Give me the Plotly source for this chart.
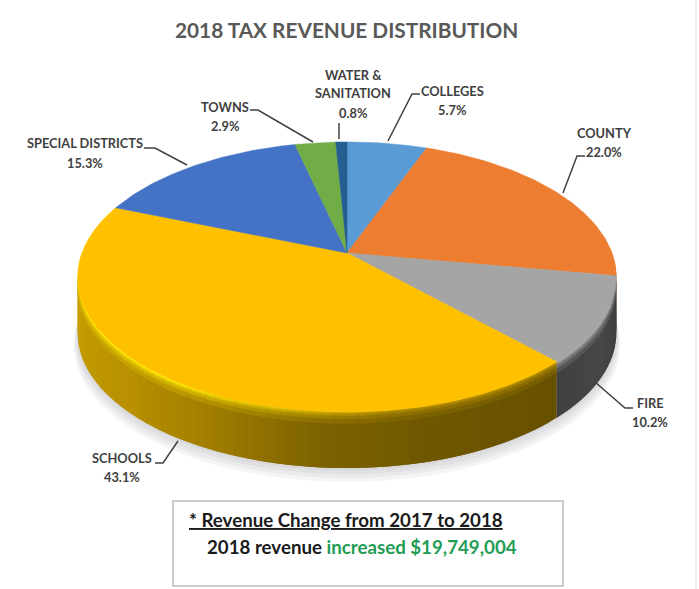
import numpy as np
import plotly.graph_objects as go

# ---- data ----
categories = ["COLLEGES", "COUNTY", "FIRE", "SCHOOLS", "SPECIAL DISTRICTS", "TOWNS", "WATER & SANITATION"]
values = [5.7, 22.0, 10.2, 43.1, 15.3, 2.9, 0.8]
title_text = "2018 TAX REVENUE DISTRIBUTION"
note_heading = "* Revenue Change from 2017 to 2018"
note_prefix = "2018 revenue "
note_amount = "increased $19,749,004"

# ---- styles ----
top_colors = ["#5b9bd5", "#ed7d31", "#a5a5a5", "#ffc000", "#4472c4", "#70ad47", "#255e91"]
# wall colour stops: clockwise angle (deg) -> colour
wall_stops = {
    "COLLEGES": [(0, "#2f5f8a"), (360, "#2f5f8a")],
    "COUNTY": [(0, "#5a3010"), (360, "#5a3010")],
    "FIRE": [(99, "#3c3c3c"), (120, "#474747"), (137, "#3f3f3f")],
    "SCHOOLS": [(136, "#665000"), (165, "#6f5700"), (185, "#7d6200"), (205, "#a07d00"),
                (225, "#b89000"), (250, "#c49b00"), (275, "#cda300"), (292, "#cda300")],
    "SPECIAL DISTRICTS": [(0, "#2f5597"), (360, "#2f5597")],
    "TOWNS": [(0, "#4e7a32"), (360, "#4e7a32")],
    "WATER & SANITATION": [(0, "#1a4268"), (360, "#1a4268")],
}
# projection of the pie disc to page pixels
APEX_X, APEX_Y, A, B, P, DEPTH = 347.0, 253.0, 265.0, 130.8, 0.178, 56.0


def project(theta_deg, radius=1.0, drop=0.0):
    t = np.radians(theta_deg)
    u, v = radius * np.sin(t), radius * np.cos(t)
    w = 1 + P * v
    return APEX_X + A * u / w, APEX_Y - B * v / w + drop


def rgb(h):
    h = h.lstrip("#")
    return np.array([int(h[i:i + 2], 16) for i in (0, 2, 4)], dtype=float)


def mix(a, b, f):
    c = rgb(a) * (1 - f) + rgb(b) * f
    return "#%02x%02x%02x" % tuple(int(round(x)) for x in c)


def wall_color(name, th):
    stops = wall_stops[name]
    xs = [s[0] for s in stops]
    r = [rgb(s[1]) for s in stops]
    c = [np.interp(th, xs, [q[i] for q in r]) for i in range(3)]
    return "#%02x%02x%02x" % tuple(int(round(x)) for x in c)


fig = go.Figure()


def poly(xs, ys, color, name=None, lw=0.0):
    fig.add_trace(go.Scatter(
        x=list(xs), y=list(ys), mode="lines", fill="toself", fillcolor=color,
        line=dict(color=color, width=lw), hoverinfo="skip" if name is None else "name",
        name=name or "", showlegend=False))


# soft shadow below the pie
all_th = np.linspace(0, 360, 181)
for extra in [11, 8, 5, 2]:
    sx, sy = project(all_th, 1.0 + extra / 800, DEPTH + extra)
    poly(sx, sy, "rgba(150,150,160,0.10)")

fractions = np.array(values) / sum(values)
edges = np.concatenate([[0], np.cumsum(fractions)]) * 360

# side walls: a base pass, then a bevel pass along the top rim
bands = [(0, 2, 0.0), (2, 4, 0.3), (4, 7, 0.55), (7, 11, 0.8)]
strips = []
for i, name in enumerate(categories):
    a0, a1 = edges[i], edges[i + 1]
    vis0, vis1 = max(a0, 88), min(a1, 292)
    if vis1 <= vis0:
        continue
    n = max(2, int((vis1 - vis0) / 2.0))
    th = np.linspace(vis0, vis1, n + 1)
    step = th[1] - th[0]
    for j in range(n):
        strips.append((i, name, th[j], min(th[j + 1] + step, a1), (th[j] + th[j + 1]) / 2))

for i, name, t0, t1, mid in strips:
    seg = np.linspace(t0, t1, 4)
    x0, y0 = project(seg, 1.0, 8)
    x1, y1 = project(seg, 1.0, DEPTH)
    poly(np.r_[x0, x1[::-1]], np.r_[y0, y1[::-1]], wall_color(name, mid))

for i, name, t0, t1, mid in strips:
    wc = wall_color(name, mid)
    tc = top_colors[i]
    if name == "SCHOOLS":
        tc = mix("#b08a00", "#ffe600", float(np.clip((mid - 172) / 40, 0, 1)))
    seg = np.linspace(t0, t1, 4)
    for d0, d1, f in bands:
        x0, y0 = project(seg, 1.0, d0)
        x1, y1 = project(seg, 1.0, d1 + 0.5)
        poly(np.r_[x0, x1[::-1]], np.r_[y0, y1[::-1]], mix(tc, wc, f))

# top faces
for i, name in enumerate(categories):
    th = np.linspace(edges[i], edges[i + 1], max(3, int(edges[i + 1] - edges[i]) + 2))
    ex, ey = project(th)
    poly(np.r_[APEX_X, ex, APEX_X], np.r_[APEX_Y, ey, APEX_Y], top_colors[i],
         name=f"{name} {values[i]:.1f}%", lw=0.5)

# ---- layout ----
FONT = "Lato, 'Open Sans', sans-serif"
LABEL_COLOR = "#3f3f3f"
annotations = [dict(x=346, y=29, text=f"<b>{title_text}</b>", showarrow=False,
                    font=dict(family=FONT, size=20.8, color="#595959"))]
label_pos = {
    "COLLEGES": (452, [91, 110]),
    "COUNTY": (604, [133, 152]),
    "FIRE": (650, [403, 422]),
    "SCHOOLS": (122, [458, 477]),
    "SPECIAL DISTRICTS": (85, [143, 163]),
    "TOWNS": (225, [107, 126]),
    "WATER & SANITATION": (353, [75, 93, 113]),
}
for name, v in zip(categories, values):
    cx, ys = label_pos[name]
    lines = ["WATER &", "SANITATION"] if name.startswith("WATER") else [name]
    lines = lines + [f"{v:.1f}%"]
    for line, yy in zip(lines, ys):
        annotations.append(dict(x=cx, y=yy, text=f"<b>{line.replace('&', '&amp;')}</b>", showarrow=False,
                                font=dict(family=FONT, size=12.8, color=LABEL_COLOR)))

annotations.append(dict(x=187, y=520, xanchor="left", text=f"<b><u>{note_heading}</u></b>", showarrow=False,
                        font=dict(family=FONT, size=18.7, color="#1a1a1a")))
annotations.append(dict(x=205, y=547, xanchor="left",
                        text=f"<b>{note_prefix}<span style='color:#1f9d55'>{note_amount}</span></b>",
                        showarrow=False, font=dict(family=FONT, size=18.7, color="#1a1a1a")))

leaders = [
    [(144, 148), (155, 148), (187, 165)],
    [(250, 110), (258, 110), (313, 142)],
    [(339, 123), (339, 139)],
    [(420, 94), (412, 94), (388, 141)],
    [(585, 156), (577, 156), (563, 193)],
    [(633, 408), (625, 408), (595, 382)],
    [(155, 463), (163, 463), (178, 441)],
]
shapes = [dict(type="path", xref="x", yref="y",
               path="M " + " L ".join(f"{a} {b}" for a, b in pts),
               line=dict(color="#404040", width=1.5), fillcolor="rgba(0,0,0,0)")
          for pts in leaders]
shapes.append(dict(type="rect", xref="x", yref="y", x0=173, x1=563, y0=501, y1=586,
                   line=dict(color="#cccccc", width=2), fillcolor="rgba(0,0,0,0)"))
shapes.append(dict(type="line", xref="x", yref="y", x0=696, x1=696, y0=0, y1=589,
                   line=dict(color="#eeeeee", width=2)))

fig.update_layout(
    width=699, height=589, margin=dict(l=0, r=0, t=0, b=0),
    paper_bgcolor="white", plot_bgcolor="white", showlegend=False,
    xaxis=dict(range=[0, 699], visible=False, fixedrange=True),
    yaxis=dict(range=[589, 0], visible=False, fixedrange=True),
    annotations=annotations, shapes=shapes,
)
fig.write_html("out.html", config={"displayModeBar": False},
               post_script="document.body.style.margin='0';document.documentElement.style.overflow='hidden';")
